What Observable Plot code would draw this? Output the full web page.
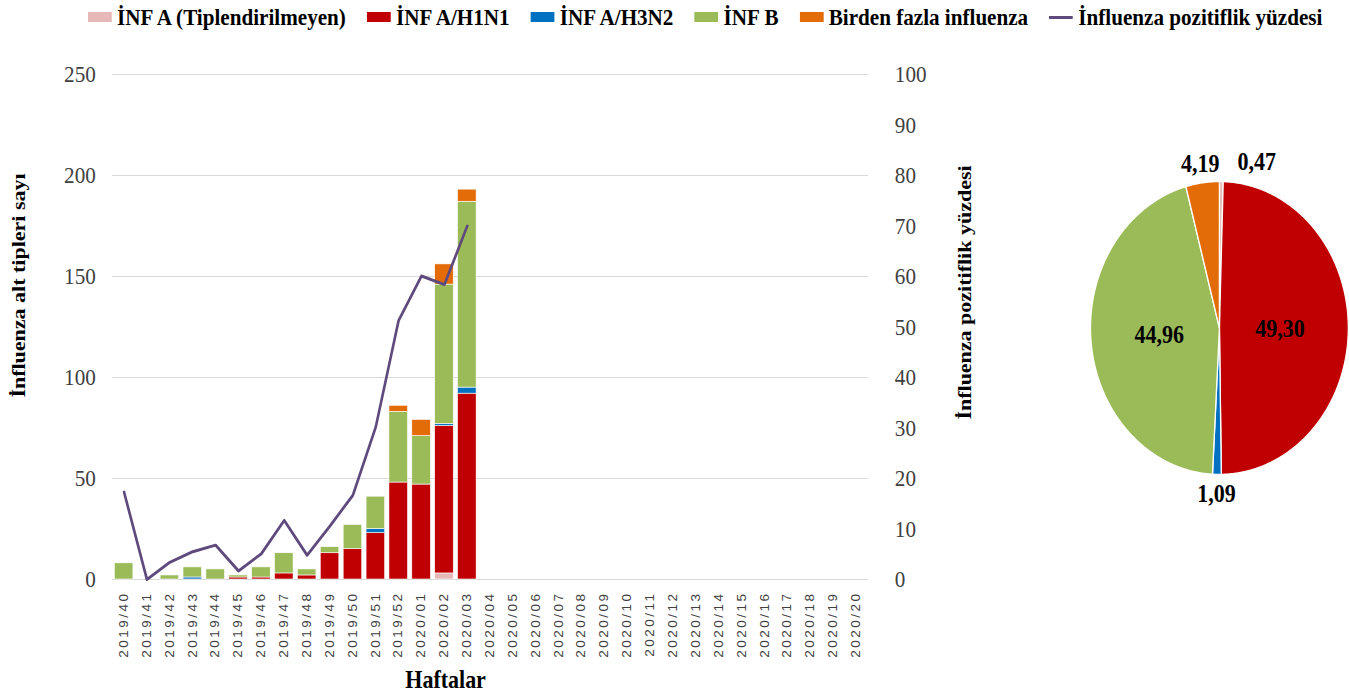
<!DOCTYPE html>
<html><head><meta charset="utf-8">
<script src="https://cdn.jsdelivr.net/npm/d3@7"></script>
<script src="https://cdn.jsdelivr.net/npm/@observablehq/plot@0.6"></script>
<style>
html,body{margin:0;padding:0;background:#fff;overflow:hidden;width:1349px;height:698px}
#stage{position:absolute;left:0;top:0;width:1533px;height:698px;transform:scaleX(0.88);transform-origin:0 0;}
#legend{position:absolute;left:100px;top:3px;display:flex;align-items:center;font-family:"Liberation Serif","Times New Roman",serif;font-weight:bold;font-size:24px;color:#000;white-space:nowrap;line-height:28px}
.item{display:flex;align-items:center;margin-right:24px}
.sw{width:27px;height:10px;margin-right:6px}
.ln{width:27px;height:3px;margin-right:6px}
#bars{position:absolute;left:0;top:40px}
#pie{position:absolute;left:1200px;top:130px}
</style></head><body><div id="stage"><div id="legend"></div><div id="bars"></div><div id="pie"></div></div>
<script>
// ---- data ----
const allWeeks = ["2019/40","2019/41","2019/42","2019/43","2019/44","2019/45","2019/46","2019/47","2019/48","2019/49","2019/50","2019/51","2019/52",
  "2020/01","2020/02","2020/03","2020/04","2020/05","2020/06","2020/07","2020/08","2020/09","2020/10","2020/11","2020/12","2020/13","2020/14",
  "2020/15","2020/16","2020/17","2020/18","2020/19","2020/20"];
const dataWeeks = allWeeks.slice(0, 16);
const seriesNames = ["İNF A (Tiplendirilmeyen)", "İNF A/H1N1", "İNF A/H3N2", "İNF B", "Birden fazla influenza"];
const seriesColors = ["#e6b9b8", "#c00000", "#0070c0", "#9bbb59", "#e36c09"];
const infAUntyped = [0,0,0,0,0,0,0,0,0,0,0,0,0,0,3,0];
const infAH1N1    = [0,0,0,0,0,1,1,3,2,13,15,23,48,47,73,92];
const infAH3N2    = [0,0,0,1,0,0,0,0,0,0,0,2,0,0,1,3];
const infB        = [8,0,2,5,5,1,5,10,3,3,12,16,35,24,69,92];
const multiInf    = [0,0,0,0,0,0,0,0,0,0,0,0,3,8,10,6];
const positivityName = "İnfluenza pozitiflik yüzdesi";
const positivity  = [17.3,0,3.4,5.5,6.8,1.7,5.1,11.7,4.8,10.6,16.7,30.2,51.3,60.1,58.4,70.0];
const countTicks = [0,50,100,150,200,250];
const pctTicks = [0,10,20,30,40,50,60,70,80,90,100];
const piePct = [0.47, 49.30, 1.09, 44.96, 4.19];
const lineColor = "#5f4a7d";
const yLeftTitle = "İnfluenza alt tipleri sayı";
const yRightTitle = "İnfluenza pozitiflik yüzdesi";
const xTitle = "Haftalar";

const serif = "Liberation Serif, Times New Roman, serif";

// ---- legend ----
const legend = document.getElementById("legend");
seriesNames.forEach((n, i) => {
  const it = document.createElement("div"); it.className = "item";
  it.innerHTML = `<span class="sw" style="background:${seriesColors[i]}"></span><span>${n}</span>`;
  legend.appendChild(it);
});
{
  const it = document.createElement("div"); it.className = "item";
  it.innerHTML = `<span class="ln" style="background:${lineColor}"></span><span>${positivityName}</span>`;
  legend.appendChild(it);
}

// ---- bar chart ----
const seriesValues = [infAUntyped, infAH1N1, infAH3N2, infB, multiInf];
const long = [];
dataWeeks.forEach((w, i) => seriesNames.forEach((s, k) => long.push({week: w, series: s, value: seriesValues[k][i]})));
const posData = dataWeeks.map((w, i) => ({week: w, pct: positivity[i]}));
const ratio = 250 / 100;

const W = 1140, H = 658;
const bars = Plot.plot({
  width: W, height: H,
  marginTop: 34, marginBottom: 119, marginLeft: 127.3, marginRight: W - 986.4,
  style: {fontFamily: serif, background: "white", overflow: "visible"},
  x: {type: "band", domain: allWeeks, paddingInner: 0.18, paddingOuter: 0.09, axis: null},
  y: {domain: [0, 250], axis: null},
  color: {domain: seriesNames, range: seriesColors},
  marks: [
    Plot.ruleY(countTicks, {stroke: "#d9d9d9", strokeWidth: 1.2}),
    Plot.barY(long, {x: "week", y: "value", fill: "series", stroke: "white", strokeWidth: 0.6}),
    Plot.line(posData, {x: "week", y: d => d.pct * ratio, stroke: lineColor, strokeWidth: 3}),
    Plot.axisY(countTicks, {anchor: "left", tickSize: 0, tickPadding: 19, fontSize: 24, fontFamily: serif, fill: "#404040", label: null}),
    Plot.axisY(pctTicks.map(d => d * ratio), {anchor: "right", tickSize: 0, tickPadding: 30, fontSize: 24, fontFamily: serif, fill: "#404040", tickFormat: d => d / ratio, label: null}),
    Plot.axisX({tickRotate: -90, tickSize: 0, tickPadding: 12, fontSize: 13.5, fontFamily: "Liberation Sans, Arial, sans-serif", fill: "#404040", label: null}),
    Plot.text([yLeftTitle], {text: d => d, frameAnchor: "left", textAnchor: "middle", rotate: -90, dx: -106.8, dy: -41.5, fontSize: 22, fontWeight: "bold", fill: "black"}),
    Plot.text([yRightTitle], {text: d => d, frameAnchor: "right", textAnchor: "middle", rotate: -90, dx: 110, dy: -34.5, fontSize: 22, fontWeight: "bold", fill: "black"}),
    Plot.text([xTitle], {text: d => d, frameAnchor: "bottom", dx: -51, dy: 108, fontSize: 25, fontWeight: "bold", fill: "black"})
  ]
});
bars.querySelectorAll('g[aria-label="x-axis tick label"] text').forEach(t => t.style.letterSpacing = "2.5px");
document.getElementById("bars").appendChild(bars);

// ---- pie chart ----
const arcs = d3.pie().sort(null).value(d => d)(piePct);
const piePts = [];
arcs.forEach((a, i) => {
  const key = seriesNames[i];
  piePts.push({key, x: 0, y: 0});
  const n = Math.max(2, Math.ceil((a.endAngle - a.startAngle) / 0.01));
  for (let j = 0; j <= n; j++) {
    const t = a.startAngle + (a.endAngle - a.startAngle) * j / n;
    piePts.push({key, x: Math.sin(t), y: Math.cos(t)});
  }
  piePts.push({key, x: 0, y: 0});
});
const fmt = v => v.toFixed(2).replace(".", ",");
const pieLabels = arcs.map((a, i) => {
  const mid = (a.startAngle + a.endAngle) / 2;
  const r = a.data > 10 ? 0.47 : 1.13;
  return {key: seriesNames[i], text: fmt(a.data), x: r * Math.sin(mid), y: r * Math.cos(mid), first: i === 0};
});
const PW = 333, PH = 380;
const pie = Plot.plot({
  width: PW, height: PH,
  marginLeft: 38.7, marginRight: 1.3, marginTop: 51, marginBottom: 36,
  style: {fontFamily: serif, background: "transparent", overflow: "visible"},
  x: {domain: [-1, 1], axis: null},
  y: {domain: [-1, 1], axis: null},
  color: {domain: seriesNames, range: seriesColors},
  marks: [
    Plot.line(piePts, {x: "x", y: "y", z: "key", fill: "key", stroke: "white", strokeWidth: 1.5, curve: "linear"}),
    Plot.text(pieLabels.filter(d => !d.first), {x: "x", y: "y", text: "text", fontSize: 25, fontWeight: "bold", fill: "black"}),
    Plot.text(pieLabels.filter(d => d.first), {x: "x", y: "y", text: "text", dx: 40, fontSize: 25, fontWeight: "bold", fill: "black"})
  ]
});
document.getElementById("pie").appendChild(pie);
</script></body></html>
